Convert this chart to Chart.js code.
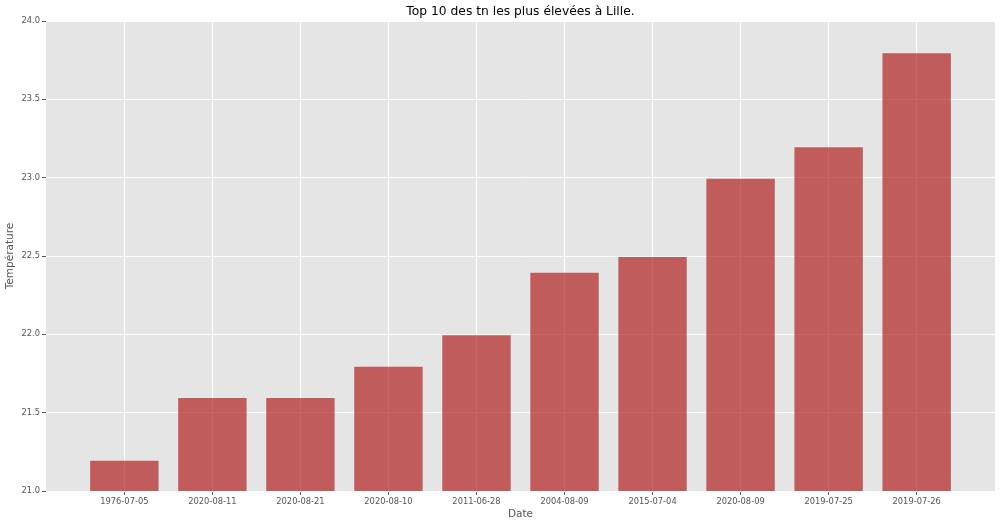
<!DOCTYPE html>
<html>
<head>
<meta charset="utf-8">
<script src="https://cdn.jsdelivr.net/npm/chart.js@4/dist/chart.umd.min.js"></script>
<style>
html,body{margin:0;padding:0;background:#fff;}
#wrap{width:1000px;height:526px;}
</style>
</head>
<body>
<div id="wrap"><canvas id="c" width="1000" height="526"></canvas></div>
<script>
const categories = ["1976-07-05","2020-08-11","2020-08-21","2020-08-10","2011-06-28","2004-08-09","2015-07-04","2020-08-09","2019-07-25","2019-07-26"];
const temperatures = [21.2, 21.6, 21.6, 21.8, 22.0, 22.4, 22.5, 23.0, 23.2, 23.8];
const yTicks = [21.0, 21.5, 22.0, 22.5, 23.0, 23.5, 24.0];
const titleText = "Top 10 des tn les plus élevées à Lille.";
const xTitle = "Date";
const yTitle = "Température";

const FONT = "'DejaVu Sans', sans-serif";

const bgPlugin = {
  id: 'bg',
  beforeDraw(chart) {
    const {ctx, chartArea: a} = chart;
    ctx.save();
    ctx.fillStyle = '#E5E5E5';
    ctx.fillRect(a.left, a.top, a.right - a.left, a.bottom - a.top);
    ctx.restore();
  },
  afterDraw(chart) {
    const {ctx, chartArea: a} = chart;
    ctx.save();
    ctx.fillStyle = '#000';
    ctx.font = "12.3px " + FONT;
    ctx.textAlign = 'center';
    ctx.textBaseline = 'middle';
    ctx.fillText(titleText, (a.left + a.right) / 2, 12);
    ctx.restore();
  }
};

new Chart(document.getElementById('c'), {
  type: 'bar',
  data: {
    datasets: [{
      data: temperatures.map((v, i) => ({x: i, y: v})),
      backgroundColor: 'rgba(178,34,34,0.7)',
      borderColor: 'rgba(255,255,255,0.15)',
      borderWidth: 1,
      barPercentage: 0.8,
      categoryPercentage: 1.0
    }]
  },
  options: {
    responsive: false,
    animation: false,
    layout: {padding: {top: 21, right: 5, left: 0, bottom: 0}},
    plugins: {legend: {display: false}, title: {display: false}, tooltip: {enabled: false}},
    scales: {
      x: {
        type: 'linear',
        offset: false,
        min: -0.89,
        max: 9.89,
        afterBuildTicks(scale) { scale.ticks = categories.map((_, i) => ({value: i})); },
        afterFit(scale) { scale.height = 35; },
        ticks: {
          autoSkip: false,
          maxRotation: 0,
          padding: 2,
          color: '#555',
          font: {family: FONT, size: 8.3},
          callback: (v) => categories[v]
        },
        grid: {offset: false, color: '#ffffff', lineWidth: 1, tickColor: '#555', tickLength: 4},
        border: {display: false},
        title: {display: true, text: xTitle, color: '#555', font: {family: FONT, size: 10.5}, padding: {top: 0, bottom: 5}}
      },
      y: {
        min: 21,
        max: 24,
        afterBuildTicks(scale) { scale.ticks = yTicks.map(v => ({value: v})); },
        afterFit(scale) { scale.width = 46; },
        ticks: {
          padding: 2,
          color: '#555',
          font: {family: FONT, size: 8.3},
          callback: (v) => Number(v).toFixed(1)
        },
        grid: {color: '#ffffff', lineWidth: 1, tickColor: '#555', tickLength: 4},
        border: {display: false},
        title: {display: true, text: yTitle, color: '#555', font: {family: FONT, size: 10.5}, padding: {top: 4, bottom: 0}}
      }
    }
  },
  plugins: [bgPlugin]
});
</script>
</body>
</html>
